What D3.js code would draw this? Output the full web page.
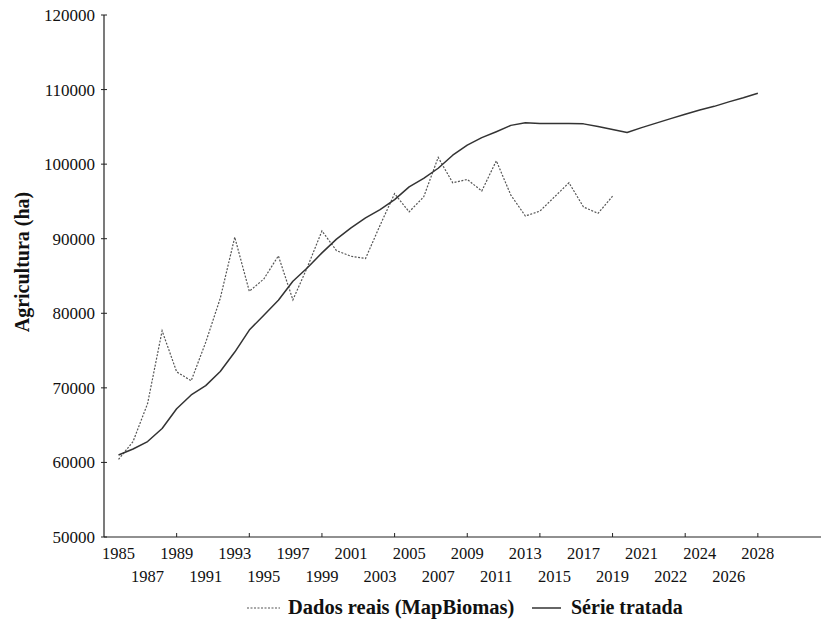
<!DOCTYPE html>
<html>
<head>
<meta charset="utf-8">
<script src="https://cdn.jsdelivr.net/npm/d3@7"></script>
<style>
  html, body { margin: 0; padding: 0; background: #fff; }
  svg { display: block; }
</style>
</head>
<body>
<svg id="chart" width="821" height="623" font-family="'Liberation Serif', 'Times New Roman', Times, 'DejaVu Serif', serif"></svg>
<script>
// Observed agricultural area (MapBiomas), one value per year 1985–2019
const realYears = [1985, 1986, 1987, 1988, 1989, 1990, 1991, 1992, 1993, 1994,
  1995, 1996, 1997, 1998, 1999, 2000, 2001, 2002, 2003, 2004,
  2005, 2006, 2007, 2008, 2009, 2010, 2011, 2012, 2013, 2014,
  2015, 2016, 2017, 2018, 2019];
const realValues = [60400, 62800, 67900, 77650, 72150, 70950, 76100, 82000, 90200, 82950,
  84600, 87700, 81800, 86200, 91050, 88400, 87650, 87350, 91800, 96050,
  93600, 95600, 100900, 97500, 97950, 96400, 100450, 95850, 93050, 93700,
  95600, 97500, 94250, 93400, 95700];

// Treated (smoothed + projected) series, one value per period
const treatedValues = [61000, 61800, 62800, 64550, 67200, 69050, 70300, 72200, 74800, 77750,
  79750, 81750, 84300, 86100, 88100, 89950, 91450, 92800, 93900, 95250,
  96950, 98100, 99450, 101200, 102550, 103550, 104350, 105200, 105550, 105450,
  105450, 105450, 105400, 105050, 104650, 104250, 104900, 105500, 106100, 106700,
  107250, 107750, 108350, 108900, 109500];

// Period labels shown under the horizontal axis (every second period)
const xTickLabels = ["1985", "1987", "1989", "1991", "1993", "1995", "1997", "1999",
  "2001", "2003", "2005", "2007", "2009", "2011", "2013", "2015", "2017", "2019",
  "2021", "2022", "2024", "2026", "2028"];
const xTickMarks = [5, 10, 15, 20, 25, 30, 35, 40, 45];
const yTicks = [50000, 60000, 70000, 80000, 90000, 100000, 110000, 120000];

const svg = d3.select("#chart");
const ink = "#111";

const x = d3.scaleLinear().domain([0, 50]).range([104, 830.5]);
const y = d3.scaleLinear().domain([50000, 120000]).range([537, 15]);

// Axes
const g = svg.append("g");
g.append("line").attr("x1", 104).attr("x2", 104).attr("y1", y(120000)).attr("y2", y(50000))
  .attr("stroke", "#222").attr("stroke-width", 1.2);
g.append("line").attr("x1", 104).attr("x2", 821).attr("y1", y(50000)).attr("y2", y(50000))
  .attr("stroke", "#222").attr("stroke-width", 1.2);

// Y ticks and labels
g.selectAll(".yt").data(yTicks).join("line")
  .attr("x1", 101).attr("x2", 107)
  .attr("y1", d => y(d)).attr("y2", d => y(d))
  .attr("stroke", "#222").attr("stroke-width", 1);
g.selectAll(".yl").data(yTicks).join("text")
  .attr("x", 95).attr("y", d => y(d)).attr("dy", "0.35em")
  .attr("text-anchor", "end").attr("font-size", 17).attr("fill", ink)
  .text(d => d3.format("d")(d));

// X ticks and labels
g.selectAll(".xt").data(xTickMarks).join("line")
  .attr("x1", d => x(d)).attr("x2", d => x(d))
  .attr("y1", y(50000)).attr("y2", y(50000) - 4)
  .attr("stroke", "#222").attr("stroke-width", 1);
g.selectAll(".xl").data(xTickLabels).join("text")
  .attr("x", (d, i) => x(1 + 2 * i))
  .attr("y", (d, i) => i % 2 === 0 ? 559 : 582)
  .attr("text-anchor", "middle").attr("font-size", 16.5).attr("fill", ink)
  .text(d => d);

// Y axis title
svg.append("text")
  .attr("transform", "translate(29,262) rotate(-90)")
  .attr("text-anchor", "middle").attr("font-size", 20).attr("font-weight", "bold").attr("fill", ink)
  .text("Agricultura (ha)");

// Series
const line = d3.line().x(d => x(d[0])).y(d => y(d[1]));
const realPts = realValues.map((v, i) => [realYears[i] - realYears[0] + 1, v]);
const treatedPts = treatedValues.map((v, i) => [i + 1, v]);

svg.append("path").datum(realPts).attr("d", line)
  .attr("fill", "none").attr("stroke", "#555").attr("stroke-width", 1.2)
  .attr("stroke-dasharray", "2,1.5");
svg.append("path").datum(treatedPts).attr("d", line)
  .attr("fill", "none").attr("stroke", "#333").attr("stroke-width", 1.5)
  .attr("stroke-linejoin", "round");

// Legend
const lg = svg.append("g");
lg.append("line").attr("x1", 247).attr("x2", 280).attr("y1", 608).attr("y2", 608)
  .attr("stroke", "#555").attr("stroke-width", 1.2).attr("stroke-dasharray", "2,1.5");
lg.append("text").attr("x", 288).attr("y", 614).attr("font-size", 20.5).attr("font-weight", "bold").attr("fill", ink)
  .text("Dados reais (MapBiomas)");
lg.append("line").attr("x1", 532).attr("x2", 561).attr("y1", 608).attr("y2", 608)
  .attr("stroke", "#333").attr("stroke-width", 1.5);
lg.append("text").attr("x", 571).attr("y", 614).attr("font-size", 20).attr("font-weight", "bold").attr("fill", ink)
  .text("Série tratada");
</script>
</body>
</html>
